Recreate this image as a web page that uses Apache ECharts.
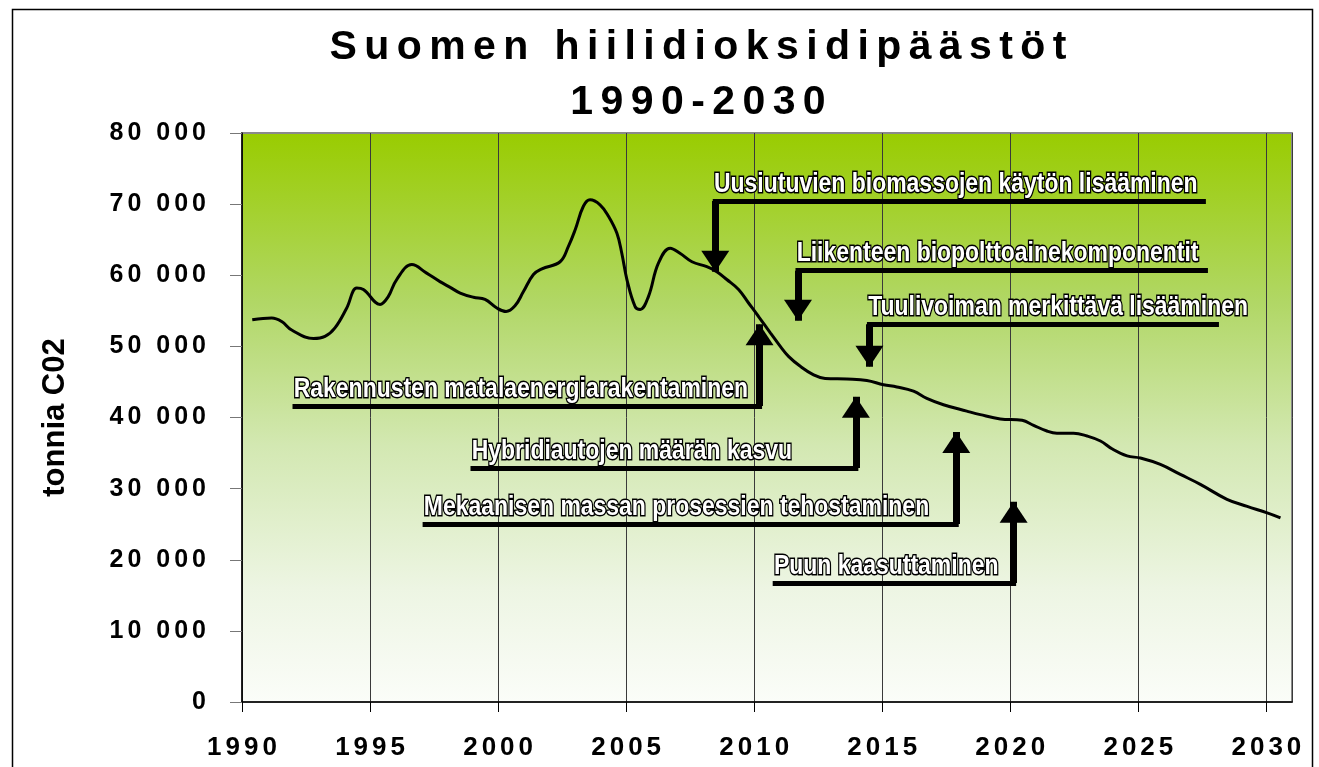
<!DOCTYPE html>
<html>
<head>
<meta charset="utf-8">
<title>Suomen hiilidioksidipäästöt 1990-2030</title>
<script src="https://cdn.jsdelivr.net/npm/echarts@6.0.0/dist/echarts.min.js"></script>
<style>
  html, body { margin: 0; padding: 0; background: #fff; }
  #chart { width: 1319px; height: 767px; }
</style>
</head>
<body>
<div id="chart"></div>
<script>
// emissions curve, tonnes CO2
var years = [1990.40, 1991.16, 1991.55, 1991.94, 1992.79, 1993.24, 1993.63, 1994.09, 1994.48, 1994.74,
  1995.39, 1995.71, 1996.04, 1996.63, 1997.21, 1997.73, 1998.13, 1998.52, 1999.04, 1999.49,
  1999.95, 2000.31, 2000.66, 2000.99, 2001.38, 2001.71, 2002.42, 2002.75, 2003.01, 2003.33,
  2003.59, 2003.98, 2004.31, 2004.64, 2004.83, 2005.03, 2005.35, 2005.55, 2005.87, 2006.26,
  2006.72, 2007.10, 2007.57, 2008.15, 2008.54, 2008.93, 2009.39, 2009.78, 2010.17, 2010.63,
  2011.02, 2011.34, 2011.80, 2012.32, 2012.77, 2013.62, 2014.40, 2015.05, 2015.57, 2016.22,
  2016.74, 2017.39, 2018.30, 2018.83, 2019.61, 2020.46, 2020.91, 2021.43, 2021.82, 2022.47,
  2023.00, 2023.52, 2023.97, 2024.56, 2025.08, 2025.86, 2026.64, 2027.42, 2028.46, 2029.25,
  2030.03, 2030.55]
var emissions = [53750, 54000, 53500, 52300, 51100, 51400, 52600, 55400, 58200, 58000,
  55900, 57000, 59400, 61500, 60300, 59100, 58300, 57500, 56900, 56600,
  55400, 54900, 55700, 57700, 60100, 60900, 61900, 64100, 66400, 69700,
  70600, 69900, 68300, 65900, 63100, 59400, 55600, 55200, 57000, 61700,
  63800, 63100, 61900, 61200, 60500, 59400, 58000, 56100, 54200, 51900,
  50000, 48600, 47200, 46000, 45500, 45400, 45200, 44600, 44300, 43700,
  42700, 41800, 40900, 40400, 39800, 39600, 38900, 38100, 37800, 37800,
  37400, 36700, 35600, 34600, 34300, 33400, 32000, 30600, 28500, 27500,
  26600, 25900]

// annotations: text, where the bar under the text starts/ends, bar level, arrow x and arrow tip level
var noteTexts = [
  'Uusiutuvien biomassojen käytön lisääminen',
  'Liikenteen biopolttoainekomponentit',
  'Tuulivoiman merkittävä lisääminen',
  'Rakennusten matalaenergiarakentaminen',
  'Hybridiautojen määrän kasvu',
  'Mekaanisen massan prosessien tehostaminen',
  'Puun kaasuttaminen'
]
var noteBarFrom = [2027.54, 2027.62, 2028.05, 1992.07, 1999.02, 1997.15, 2010.82]
var noteArrowX = [2008.48, 2011.71, 2014.50, 2010.21, 2013.97, 2017.89, 2020.13]
var noteBarY = [70440, 60640, 53100, 41620, 32900, 25030, 16730]
var noteTipY = [60500, 53610, 47140, 53100, 42920, 37960, 28160]

var titleLines = ['Suomen hiilidioksidipäästöt', '1990-2030']
var yAxisName = 'tonnia C02'

var SANS = "'Liberation Sans', Arial, Helvetica, sans-serif"

// letter spacing through rich text padding
function spaced(str, key) {
  return str.split('').map(function(c) { return '{' + key + '|' + c + '}' }).join('')
}
function thousands(v) {
  return String(v).replace(/\B(?=(\d{3})+(?!\d))/g, ' ')
}

// arrow head with its tip at the centre of the box, pointing up
var ARROW = 'path://M0,0 M42,0 M7,42 L35,42 L21,21 Z'

var chart = echarts.init(document.getElementById('chart'))

var curve = years.map(function(y, i) { return [y, emissions[i]] })
var bars = noteTexts.map(function(t, i) {
  return { coords: [[noteBarFrom[i], noteBarY[i]], [noteArrowX[i], noteBarY[i]]] }
})
var shafts = noteTexts.map(function(t, i) {
  return { coords: [[noteArrowX[i], noteBarY[i]], [noteArrowX[i], noteTipY[i]]] }
})
var labels = noteTexts.map(function(t, i) {
  return { name: t, value: [Math.min(noteBarFrom[i], noteArrowX[i]) - 0.05, noteBarY[i]] }
})

chart.setOption({
  backgroundColor: '#fff',
  animation: false,
  title: {
    text: spaced(titleLines[0], 't') + '\n' + spaced(titleLines[1], 't'),
    left: 698,
    top: 20,
    padding: 0,
    textAlign: 'center',
    textStyle: {
      rich: {
        t: { fontSize: 41, fontWeight: 'bold', fontFamily: SANS, color: '#000', padding: [0, 3.7], lineHeight: 55 }
      }
    }
  },
  graphic: [{
    type: 'rect',
    left: 10,
    top: 7,
    silent: true,
    z: -10,
    shape: { width: 1300, height: 800 },
    style: { fill: 'none', stroke: '#000', lineWidth: 1.5 }
  }],
  grid: {
    left: 242,
    right: 27,
    top: 133,
    bottom: 65,
    show: true,
    borderColor: '#8a8a8a',
    borderWidth: 2,
    backgroundColor: new echarts.graphic.LinearGradient(0, 0, 0, 1, [
      { offset: 0, color: '#99cc00' },
      { offset: 0.3, color: '#b1d766' },
      { offset: 0.55, color: '#d3e8b2' },
      { offset: 0.8, color: '#edf5e3' },
      { offset: 1, color: '#fbfdf9' }
    ])
  },
  xAxis: {
    type: 'value',
    min: 1990,
    max: 2031,
    interval: 5,
    axisLine: { show: true, lineStyle: { color: '#000', width: 1.5 } },
    axisTick: { show: true, length: 10, lineStyle: { color: '#000' } },
    splitLine: { show: true, lineStyle: { color: '#3a3a3a', width: 1 } },
    axisLabel: {
      margin: 33,
      showMaxLabel: false,
      formatter: function(v) { return spaced(String(v), 'a') },
      rich: {
        a: { fontSize: 26, fontWeight: 'bold', fontFamily: SANS, color: '#000', padding: [0, 2] }
      }
    }
  },
  yAxis: {
    type: 'value',
    min: 0,
    max: 80000,
    interval: 10000,
    name: yAxisName,
    nameLocation: 'middle',
    nameRotate: 90,
    nameGap: 171,
    nameTextStyle: { fontSize: 31, fontWeight: 'bold', fontFamily: SANS, color: '#000' },
    axisLine: { show: true, lineStyle: { color: '#000', width: 1.5 } },
    axisTick: { show: true, length: 12, lineStyle: { color: '#777' } },
    splitLine: { show: false },
    axisLabel: {
      margin: 34,
      formatter: function(v) { return spaced(thousands(v), 'a') },
      rich: {
        a: { fontSize: 25, fontWeight: 'bold', fontFamily: SANS, color: '#000', padding: [0, 2] }
      }
    }
  },
  series: [
    {
      name: 'CO2',
      type: 'line',
      data: curve,
      smooth: 0.4,
      showSymbol: false,
      lineStyle: { color: '#000', width: 3 },
      z: 3
    },
    {
      name: 'bars',
      type: 'lines',
      coordinateSystem: 'cartesian2d',
      data: bars,
      symbol: 'none',
      lineStyle: { color: '#000', width: 5, opacity: 1, curveness: 0, cap: 'square' },
      z: 4
    },
    {
      name: 'arrows',
      type: 'lines',
      coordinateSystem: 'cartesian2d',
      data: shafts,
      symbol: ['none', ARROW],
      symbolSize: 42,
      lineStyle: { color: '#000', width: 7, opacity: 1, curveness: 0 },
      z: 4
    },
    {
      name: 'notes',
      type: 'custom',
      data: labels,
      encode: { x: 0, y: 1 },
      silent: true,
      z: 5,
      renderItem: function(params, api) {
        var p = api.coord([api.value(0), api.value(1)])
        return {
          type: 'text',
          x: p[0],
          y: p[1] - 3,
          scaleX: 0.82,
          style: {
            text: noteTexts[params.dataIndex],
            font: 'bold 28px ' + SANS,
            fill: '#fff',
            stroke: '#000',
            lineWidth: 3,
            strokeFirst: true,
            align: 'left',
            verticalAlign: 'bottom'
          }
        }
      }
    }
  ]
})
</script>
</body>
</html>
